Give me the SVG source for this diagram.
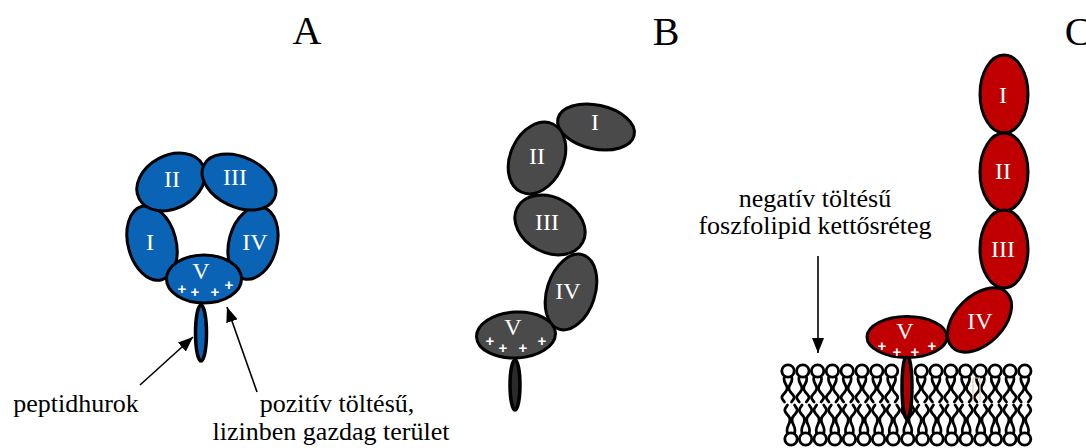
<svg xmlns="http://www.w3.org/2000/svg" xmlns:xlink="http://www.w3.org/1999/xlink" width="1086" height="448" viewBox="0 0 1086 448">
  <style>
    .title { font-family: "Liberation Serif", "Times New Roman", serif; font-size: 40px; fill: #000; text-anchor: middle; }
    .label { font-family: "Liberation Serif", "Times New Roman", serif; font-size: 26px; fill: #000; text-anchor: middle; }
    .num { font-family: "Liberation Serif", "Times New Roman", serif; font-size: 24px; fill: #fff; text-anchor: middle; }
    .plus { font-family: "Liberation Sans", Arial, sans-serif; font-size: 15px; font-weight: bold; fill: #fff; text-anchor: middle; }
    .dom { stroke: #000; stroke-width: 3; }
    .blue { fill: #0b63b5; }
    .gray { fill: #4a4a4a; }
    .red { fill: #c00000; }
    .arrow { stroke: #000; stroke-width: 1.6; fill: none; marker-end: url(#head); }
    .lipid { fill: #fff; stroke: #000; stroke-width: 2.8; }
    .tail { fill: none; stroke: #000; stroke-width: 2.8; stroke-linecap: round; }
  </style>
  <defs>
    <marker id="head" markerUnits="userSpaceOnUse" markerWidth="16" markerHeight="12" refX="15" refY="6" orient="auto">
      <path d="M0,0 L15,6 L0,12 z" fill="#000"/>
    </marker>
    <!-- upper leaflet lipid: head with two tails hanging down -->
    <g id="lipidTop">
      <path class="tail" d="M-3,5 C-7.5,11 3,15 -2.5,21 S-6.5,27 -3.5,31"/>
      <path class="tail" d="M3,5 C7.5,11 -3,15 2.5,21 S6.5,27 3.5,31"/>
      <circle class="lipid" cx="0" cy="0" r="6.2"/>
    </g>
    <!-- lower leaflet lipid: head with two tails pointing up -->
    <g id="lipidBot">
      <path class="tail" d="M-3,-5 C-7.5,-12 3,-17 -2.5,-23 S-6.5,-30 -3.5,-34"/>
      <path class="tail" d="M3,-5 C7.5,-12 -3,-17 2.5,-23 S6.5,-30 3.5,-34"/>
      <circle class="lipid" cx="0" cy="0" r="6.2"/>
    </g>
  </defs>

  <rect width="1086" height="448" fill="#fff"/>

  <!-- panel titles -->
  <g id="titles">
    <text class="title" x="307" y="44">A</text>
    <text class="title" x="666" y="45">B</text>
    <text class="title" x="1078" y="45">C</text>
  </g>

  <!-- A: closed ring of five domains -->
  <g id="A-loop">
    <ellipse class="blue" cx="201" cy="333" rx="5.5" ry="28" stroke="#000" stroke-width="3.5"/>
  </g>
  <g id="A-I">
    <ellipse class="dom blue" cx="152" cy="243" rx="24" ry="38" transform="rotate(-15 152 243)"/>
    <text class="num" x="150" y="250">I</text>
  </g>
  <g id="A-IV">
    <ellipse class="dom blue" cx="253" cy="243" rx="24" ry="37" transform="rotate(15 253 243)"/>
    <text class="num" x="255" y="250">IV</text>
  </g>
  <g id="A-II">
    <ellipse class="dom blue" cx="171" cy="182" rx="36" ry="26.5" transform="rotate(-28 171 182)"/>
    <text class="num" x="172" y="187">II</text>
  </g>
  <g id="A-III">
    <ellipse class="dom blue" cx="239" cy="182" rx="39" ry="25" transform="rotate(25 239 182)"/>
    <text class="num" x="235" y="185">III</text>
  </g>
  <g id="A-V">
    <ellipse class="dom blue" cx="204" cy="279" rx="37.5" ry="24"/>
    <text class="num" x="201" y="279">V</text>
    <text class="plus" x="182" y="294">+</text>
    <text class="plus" x="195" y="297">+</text>
    <text class="plus" x="215" y="297">+</text>
    <text class="plus" x="229" y="290">+</text>
  </g>

  <!-- B: open chain of five domains -->
  <g id="B-loop">
    <ellipse cx="515" cy="385" rx="5" ry="25" fill="#2a2a2a" stroke="#000" stroke-width="3.5"/>
  </g>
  <g id="B-I">
    <ellipse class="dom gray" cx="596" cy="127" rx="39" ry="22" transform="rotate(12 596 127)"/>
    <text class="num" x="595" y="130">I</text>
  </g>
  <g id="B-II">
    <ellipse class="dom gray" cx="537" cy="158" rx="26.5" ry="37.5" transform="rotate(25 537 158)"/>
    <text class="num" x="537" y="164">II</text>
  </g>
  <g id="B-III">
    <ellipse class="dom gray" cx="550" cy="225" rx="37" ry="27.5" transform="rotate(28 550 225)"/>
    <text class="num" x="547" y="230">III</text>
  </g>
  <g id="B-IV">
    <ellipse class="dom gray" cx="571" cy="292" rx="24" ry="39" transform="rotate(18 571 292)"/>
    <text class="num" x="568" y="299">IV</text>
  </g>
  <g id="B-V">
    <ellipse class="dom gray" cx="516" cy="335" rx="39.5" ry="23" transform="rotate(-3 516 335)"/>
    <text class="num" x="513" y="335">V</text>
    <text class="plus" x="490" y="346">+</text>
    <text class="plus" x="503" y="353">+</text>
    <text class="plus" x="523" y="353">+</text>
    <text class="plus" x="542" y="346">+</text>
  </g>

  <!-- C: phospholipid bilayer -->
  <g id="membrane">
    <use xlink:href="#lipidBot" x="791" y="439"/>
    <use xlink:href="#lipidBot" x="805.6" y="439"/>
    <use xlink:href="#lipidBot" x="820.2" y="439"/>
    <use xlink:href="#lipidBot" x="834.8" y="439"/>
    <use xlink:href="#lipidBot" x="849.4" y="439"/>
    <use xlink:href="#lipidBot" x="864" y="439"/>
    <use xlink:href="#lipidBot" x="878.6" y="439"/>
    <use xlink:href="#lipidBot" x="893.2" y="439"/>
    <use xlink:href="#lipidBot" x="907.8" y="439"/>
    <use xlink:href="#lipidBot" x="922.4" y="439"/>
    <use xlink:href="#lipidBot" x="937" y="439"/>
    <use xlink:href="#lipidBot" x="951.6" y="439"/>
    <use xlink:href="#lipidBot" x="966.2" y="439"/>
    <use xlink:href="#lipidBot" x="980.8" y="439"/>
    <use xlink:href="#lipidBot" x="995.4" y="439"/>
    <use xlink:href="#lipidBot" x="1010" y="439"/>
    <use xlink:href="#lipidBot" x="1024.6" y="439"/>

    <use xlink:href="#lipidTop" x="788" y="371"/>
    <use xlink:href="#lipidTop" x="802.8" y="371"/>
    <use xlink:href="#lipidTop" x="817.6" y="371"/>
    <use xlink:href="#lipidTop" x="832.4" y="371"/>
    <use xlink:href="#lipidTop" x="847.2" y="371"/>
    <use xlink:href="#lipidTop" x="862" y="371"/>
    <use xlink:href="#lipidTop" x="876.8" y="371"/>
    <use xlink:href="#lipidTop" x="891.6" y="371"/>
    <use xlink:href="#lipidTop" x="921.2" y="371"/>
    <use xlink:href="#lipidTop" x="936" y="371"/>
    <use xlink:href="#lipidTop" x="950.8" y="371"/>
    <use xlink:href="#lipidTop" x="965.6" y="371"/>
    <use xlink:href="#lipidTop" x="980.4" y="371"/>
    <use xlink:href="#lipidTop" x="995.2" y="371"/>
    <use xlink:href="#lipidTop" x="1010" y="371"/>
    <use xlink:href="#lipidTop" x="1024.8" y="371"/>
    <!-- faint tinted tail outline -->
    <path d="M973,378 L973,402 M980,378 L980,402 M973,378 L980,378" fill="none" stroke="#e9c9ae" stroke-width="1.2"/>
  </g>

  <!-- C: chain anchored to the membrane -->
  <g id="C-loop">
    <ellipse cx="907" cy="387" rx="5" ry="32" fill="#b00000" stroke="#000" stroke-width="3.5"/>
  </g>
  <g id="C-I">
    <ellipse class="dom red" cx="1004" cy="94" rx="24" ry="39"/>
    <text class="num" x="1003" y="103">I</text>
  </g>
  <g id="C-II">
    <ellipse class="dom red" cx="1004" cy="172" rx="24" ry="39"/>
    <text class="num" x="1003" y="179">II</text>
  </g>
  <g id="C-III">
    <ellipse class="dom red" cx="1004" cy="249" rx="24" ry="39"/>
    <text class="num" x="1003" y="257">III</text>
  </g>
  <g id="C-IV">
    <ellipse class="dom red" cx="979.5" cy="320" rx="24" ry="38.5" transform="rotate(45 979.5 320)"/>
    <text class="num" x="980" y="329">IV</text>
  </g>
  <g id="C-V">
    <ellipse class="dom red" cx="907" cy="337" rx="40" ry="20.5"/>
    <text class="num" x="905" y="339">V</text>
    <text class="plus" x="882" y="351">+</text>
    <text class="plus" x="897" y="357">+</text>
    <text class="plus" x="915" y="357">+</text>
    <text class="plus" x="932" y="351">+</text>
  </g>

  <!-- callout labels -->
  <g id="labels">
    <text class="label" x="76" y="412">peptidhurok</text>
    <text class="label" x="337" y="412">pozitív töltésű,</text>
    <text class="label" x="331" y="440">lizinben gazdag terület</text>
    <text class="label" x="815" y="207">negatív töltésű</text>
    <text class="label" x="815" y="234">foszfolipid kettősréteg</text>
  </g>

  <!-- pointer arrows -->
  <g id="connectors">
    <line class="arrow" x1="140" y1="385" x2="193" y2="337"/>
    <line class="arrow" x1="257" y1="392" x2="227" y2="307"/>
    <line class="arrow" x1="818" y1="256" x2="818" y2="353"/>
  </g>
</svg>
